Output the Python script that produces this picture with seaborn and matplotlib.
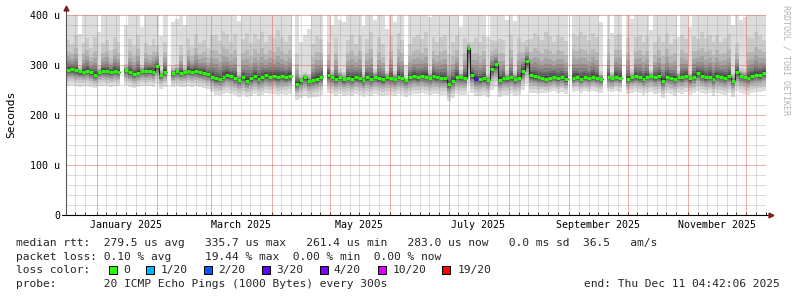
import numpy as np
import pandas as pd
import matplotlib
matplotlib.use("Agg")
import matplotlib.pyplot as plt
import matplotlib.dates as mdates
from matplotlib.patches import Rectangle
import seaborn as sns

nan = np.nan

# ---------------- data ----------------
START = "2024-12-16 04:42:06"
END = "2025-12-11 04:42:06"
STEP_DAYS = 2

median_us = [
    290, 291, 289, 287, 286, 288, 285, 280, 286, 288,
    287, 285, 288, 286, nan, 290, 285, 281, 284, 288,
    287, 288, 286, 298, 280, 286, nan, 284, 287, 284,
    285, 288, 286, 287, 285, 283, 281, 276, 273, 272,
    276, 280, 278, 274, 270, 275, 268, 273, 277, 272,
    275, 279, 276, 278, 275, 277, 276, 278, nan, 262,
    270, 275, 268, 270, 272, 276, nan, 279, 276, 272,
    276, 271, 274, 272, 275, 273, 270, 275, 272, 276,
    273, 271, 275, 274, 272, 276, 274, 270, 275, 277,
    275, 278, 276, 274, 277, 275, 274, 273, 261, 268,
    276, 275, 274, 334, 279, 272, 271, 273, 270, 292,
    301, 270, 274, 273, 275, 272, 274, 288, 307, 279,
    277, 275, 274, 272, 274, 276, 273, 275, 271, nan,
    274, 276, 272, 275, 273, 276, 274, 272, nan, 275,
    273, 276, 274, nan, 272, 275, 277, 275, 272, 276,
    278, 275, 277, 268, 276, 274, 272, 276, 275, 278,
    273, 276, 283, 278, 275, 276, 272, 278, 276, 274,
    277, 268, 286, 278, 276, 274, 277, 280, 279, 283,
]

lo_us = [
    258, 259, 257, 256, 257, 258, 255, 254, 257, 258,
    257, 256, 258, 257, nan, 259, 256, 253, 255, 258,
    257, 258, 256, 262, 252, 256, nan, 255, 257, 255,
    256, 258, 256, 257, 255, 254, 252, 245, 240, 239,
    242, 244, 241, 239, 236, 240, 235, 238, 242, 238,
    240, 243, 241, 242, 240, 241, 240, 242, nan, 230,
    234, 238, 233, 235, 236, 240, nan, 243, 241, 238,
    241, 237, 240, 238, 241, 239, 236, 240, 238, 241,
    239, 237, 240, 240, 238, 241, 240, 236, 240, 242,
    241, 243, 241, 240, 242, 241, 240, 239, 228, 233,
    241, 240, 239, 262, 244, 238, 237, 239, 236, 250,
    255, 236, 240, 239, 241, 238, 240, 250, 262, 244,
    243, 242, 244, 243, 245, 247, 244, 246, 242, nan,
    246, 248, 244, 247, 245, 248, 246, 244, nan, 247,
    245, 248, 246, nan, 242, 244, 246, 244, 240, 243,
    245, 242, 244, 234, 243, 241, 238, 243, 242, 245,
    240, 243, 248, 244, 241, 243, 238, 244, 242, 240,
    243, 236, 248, 244, 242, 240, 243, 246, 245, 248,
]

hi_us = [
    720, 650, 800, 362, 700, 760, 640, 820, 365, 690,
    740, 600, 780, 710, nan, 380, 760, 690, 820, 375,
    700, 640, 760, 600, 358, 720, nan, 385, 392, 680,
    380, 760, 640, 820, 700, 760, 660, 880, 900, 820,
    940, 860, 760, 900, 388, 820, 960, 780, 880, 840,
    920, 760, 880, 820, 960, 840, 780, 860, nan, 700,
    345, 360, 372, 780, 880, 820, nan, 760, 380, 860,
    390, 385, 820, 900, 760, 880, 378, 820, 940, 390,
    860, 780, 372, 880, 385, 900, 820, 300, 760, 840,
    880, 800, 920, 395, 840, 780, 860, 900, 700, 820,
    880, 375, 840, 420, 760, 860, 800, 880, 356, 700,
    640, 860, 820, 390, 880, 388, 840, 700, 620, 800,
    900, 860, 820, 940, 880, 780, 900, 860, 820, nan,
    900, 860, 940, 880, 820, 900, 860, 385, nan, 820,
    364, 880, 900, nan, 860, 392, 840, 880, 800, 860,
    370, 780, 860, 820, 900, 760, 840, 356, 880, 800,
    375, 860, 780, 900, 840, 880, 800, 860, 780, 840,
    880, 380, 700, 390, 395, 860, 820, 900, 840, 760,
]

lossy_step_index = [105]
lossy_step_level = ["3/20"]

loss_levels = ["0", "1/20", "2/20", "3/20", "4/20", "10/20", "19/20"]
loss_colors = ["#26ff00", "#00b8ff", "#0059ff", "#5e00ff", "#7e00ff", "#dd00ff", "#ff0000"]

month_label_text = ["January 2025", "March 2025", "May 2025",
                    "July 2025", "September 2025", "November 2025"]
month_label_at = ["2025-01-16", "2025-03-16", "2025-05-16",
                  "2025-07-16", "2025-09-16", "2025-11-16"]

ytick_values = [0, 100, 200, 300, 400]
ytick_text = ["0", "100 u", "200 u", "300 u", "400 u"]

# relative position of the 20 sorted pings inside each step (smoke shape)
lower_rank_frac = [1.0, 0.75, 0.58, 0.45, 0.35, 0.27, 0.20, 0.14, 0.08, 0.03]
upper_rank_frac = [0.004, 0.009, 0.015, 0.022, 0.032, 0.045, 0.063, 0.09, 0.14, 1.0]

stat_row_rtt = "median rtt:  279.5 us avg   335.7 us max   261.4 us min   283.0 us now   0.0 ms sd  36.5   am/s"
stat_row_loss = "packet loss: 0.10 % avg     19.44 % max  0.00 % min  0.00 % now"
stat_row_probe = "probe:       20 ICMP Echo Pings (1000 Bytes) every 300s"
stat_row_end = "end: Thu Dec 11 04:42:06 2025"

# ---------------- style ----------------
sns.set_theme(style="white")
plt.rcParams["font.family"] = ["DejaVu Sans Mono"]

W, H = 797, 297
PX = 0.72  # one pixel in points
fig = plt.figure(figsize=(W / 100, H / 100), dpi=100, facecolor="white")
ax = fig.add_axes([66 / W, (H - 215) / H, 700 / W, 200 / H])
ax.set_facecolor("white")

N = len(median_us)
times = pd.date_range(START, periods=N, freq=f"{STEP_DAYS}D")
t = mdates.date2num(times.to_pydatetime())
t_start = mdates.date2num(pd.Timestamp(START).to_pydatetime())
t_end = mdates.date2num(pd.Timestamp(END).to_pydatetime())

med = np.array(median_us, float)
lo = np.array(lo_us, float)
hi = np.array(hi_us, float)
valid = ~np.isnan(med)

pings = np.zeros((20, N))
for k in range(10):
    pings[k] = med - lower_rank_frac[k] * (med - lo)
    pings[10 + k] = med + upper_rank_frac[k] * (hi - med)

# smoke layers (outer light -> inner dark)
for k in range(10):
    g = int(190 / 10 * (10 - (k + 1))) + 50
    col = "#%02x%02x%02x" % (g, g, g)
    bottom = pings[k]
    top = pings[19 - k]
    ax.bar(t[valid], (top - bottom)[valid], bottom=bottom[valid],
           width=STEP_DAYS, align="edge", color=col, linewidth=0,
           antialiased=False, zorder=1)

# median: thin dark connecting line
rows = []
seg = 0
prev_ok = False
for i in range(N):
    if not valid[i]:
        prev_ok = False
        continue
    if not prev_ok:
        seg += 1
    rows.append((t[i], med[i], seg))
    rows.append((t[i] + STEP_DAYS, med[i], seg))
    prev_ok = True
df_line = pd.DataFrame(rows, columns=["t", "m", "seg"])
sns.lineplot(data=df_line, x="t", y="m", units="seg", estimator=None, sort=False,
             color="#202020", linewidth=0.8, ax=ax, zorder=3, legend=False)

# median: loss-coloured pieces
loss_of_step = ["0"] * N
for i, lv in zip(lossy_step_index, lossy_step_level):
    loss_of_step[i] = lv
grows = []
for i in range(N):
    if valid[i]:
        grows.append((t[i], med[i], i, loss_of_step[i]))
        grows.append((t[i] + STEP_DAYS, med[i], i, loss_of_step[i]))
df_green = pd.DataFrame(grows, columns=["t", "m", "step", "loss"])
sns.lineplot(data=df_green, x="t", y="m", units="step", estimator=None, sort=False,
             hue="loss", palette=dict(zip(loss_levels, loss_colors)),
             linewidth=2.2, ax=ax, zorder=4, legend=False, solid_capstyle="butt")

# ---------------- axes ----------------
ax.set_xlim(t_start, t_end)
ax.set_ylim(0, 400)
ax.set_xlabel("")
ax.set_ylabel("")
for s in ax.spines.values():
    s.set_visible(False)
ax.grid(False)

month_starts = mdates.date2num(
    pd.date_range("2025-01-01", "2025-12-01", freq="MS").to_pydatetime())
minor_dates = [d for d in pd.date_range("2024-12-16", END, freq="D")
               if d.day in (6, 11, 16, 21, 26)]
minor_x = mdates.date2num(pd.DatetimeIndex(minor_dates).to_pydatetime())
minor_x = minor_x[(minor_x > t_start) & (minor_x < t_end)]

ax.set_xticks(month_starts)
ax.set_xticks(minor_x, minor=True)
ax.set_yticks(ytick_values)
ax.set_yticklabels(ytick_text)
ax.set_yticks([v for v in range(0, 401, 20) if v % 100], minor=True)

ax.tick_params(axis="x", which="both", labelbottom=False, bottom=True,
               direction="in", length=2, width=PX, color="#1f1f1f")
ax.tick_params(axis="y", which="both", direction="in", length=2, width=PX,
               color="#555555", labelsize=7.2, pad=4.3, labelcolor="black")

# grid: rrdtool draws 1-on/1-off dotted lines over the smoke; at this size a
# thin translucent line gives the same tone
grid_minor = (0.56, 0.56, 0.56, 0.30)
grid_major = (0.87, 0.31, 0.31, 0.45)
gkw = dict(linewidth=PX, linestyle="-", snap=True)
for v in range(20, 400, 20):
    if v % 100:
        ax.axhline(v, color=grid_minor, zorder=2, **gkw)
for xv in minor_x:
    ax.axvline(xv, color=grid_minor, zorder=2, **gkw)
for v in (100, 200, 300, 400):
    ax.axhline(v, color=grid_major, zorder=2.2, **gkw)
for xv in month_starts:
    ax.axvline(xv, color=grid_major, zorder=2.2, **gkw)

# axis lines with arrows
ax.plot([0, 0], [0, 1.028], transform=ax.transAxes, clip_on=False,
        color="#555555", lw=0.8, zorder=6)
ax.plot([-4 / 700, 1.003], [0, 0], transform=ax.transAxes, clip_on=False,
        color="#000000", lw=0.8, zorder=6)
ax.plot([0], [1.035], transform=ax.transAxes, clip_on=False, marker="^",
        markersize=3.5, color="#801f1f", zorder=7)
ax.plot([1.007], [0], transform=ax.transAxes, clip_on=False, marker=">",
        markersize=3.5, color="#801f1f", zorder=7)

# month labels
for txt, d in zip(month_label_text, month_label_at):
    xd = mdates.date2num(pd.Timestamp(d).to_pydatetime())
    ax.text(xd, (215 - 228) / 200, txt, transform=ax.get_xaxis_transform(),
            ha="center", va="baseline", fontsize=7.2, color="black")

# ---------------- figure texts ----------------
def ftext(x, yb, s, **kw):
    fig.text(x / W, 1 - yb / H, s, va="baseline", **kw)

fig.text(10.8 / W, 1 - 114 / H, "Seconds", rotation=90, ha="center",
         va="center", fontsize=8.1, color="black")
fig.text(786 / W, 1 - 5 / H, "RRDTOOL / TOBI OETIKER", rotation=-90,
         ha="center", va="top", fontsize=6, color="#b4b4b4")

ftext(16, 246, stat_row_rtt, fontsize=8.15)
ftext(16, 259.5, stat_row_loss, fontsize=8.15)
ftext(16, 273.2, "loss color:", fontsize=8.15)
ftext(16, 286.8, stat_row_probe, fontsize=8.15)
ftext(780, 286.8, stat_row_end, fontsize=8.15, ha="right")

box_left = [109, 146, 203.7, 261.7, 320, 377.7, 442.3]
label_left = [123.3, 160.3, 218, 276, 333, 392.7, 457.3]
for bx, lx, lv, c in zip(box_left, label_left, loss_levels, loss_colors):
    fig.patches.append(Rectangle((bx / W, 1 - 273.5 / H), 8 / W, 8 / H,
                                 transform=fig.transFigure, facecolor=c,
                                 edgecolor="black", linewidth=PX))
    ftext(lx, 273.2, lv, fontsize=8.15)

fig.savefig("out.png", dpi=100, facecolor="white")
